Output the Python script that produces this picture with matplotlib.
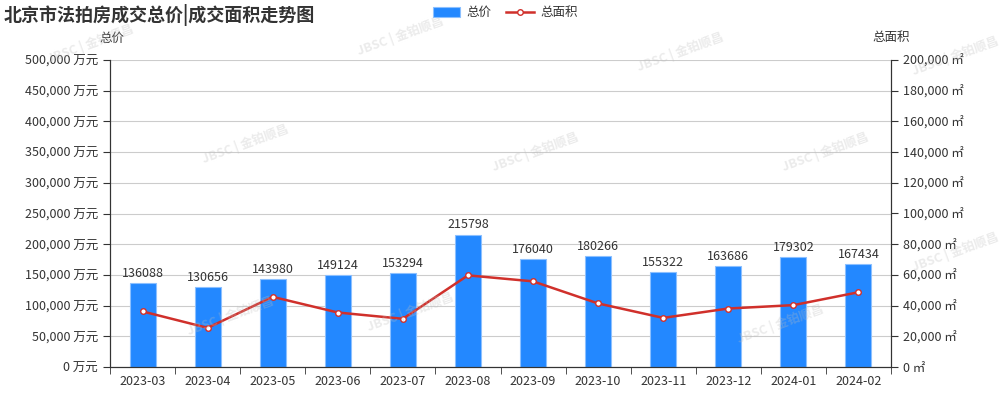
import matplotlib
matplotlib.use("Agg")
import matplotlib.pyplot as plt
import numpy as np
from matplotlib.ticker import FuncFormatter

plt.rcParams['font.family'] = ['Noto Sans CJK SC', 'DejaVu Sans']

# Daten
months = ["2023-03", "2023-04", "2023-05", "2023-06", "2023-07", "2023-08",
          "2023-09", "2023-10", "2023-11", "2023-12", "2024-01", "2024-02"]
total_price = [136088, 130656, 143980, 149124, 153294, 215798,
               176040, 180266, 155322, 163686, 179302, 167434]
total_area = [36200, 25500, 45700, 35500, 31400, 59700,
              55800, 41400, 32000, 38100, 40300, 48700]

bar_color = "#2388ff"
line_color = "#d0302b"
text_color = "#333333"

fig = plt.figure(figsize=(10, 4), dpi=100)
ax = fig.add_axes([0.11, 0.0825, 0.781, 0.7675])
ax2 = ax.twinx()

x = np.arange(len(months))
ax.bar(x, total_price, width=0.4, color=bar_color, edgecolor="#8cc0ff",
       linewidth=0.8, zorder=2, label="总价")
for xi, v in zip(x, total_price):
    ax.text(xi, v + 5000, str(v), ha="center", va="bottom", fontsize=9, color=text_color)

ax2.plot(x, total_area, color=line_color, linewidth=1.8, marker="o", markersize=4,
         markerfacecolor="white", markeredgecolor=line_color, markeredgewidth=1,
         zorder=3, label="总面积")

ax.set_xlim(-0.5, len(months) - 0.5)
ax.set_ylim(0, 500000)
ax2.set_ylim(0, 200000)
ax.set_yticks(np.arange(0, 500001, 50000))
ax2.set_yticks(np.arange(0, 200001, 20000))
ax.yaxis.set_major_formatter(FuncFormatter(lambda v, p: f"{int(v):,} 万元"))
ax2.yaxis.set_major_formatter(FuncFormatter(lambda v, p: f"{int(v):,} ㎡"))

ax.set_xticks(x)
ax.set_xticklabels(months)
ax.set_xticks(np.arange(-0.5, len(months), 1), minor=True)
ax.tick_params(axis="x", which="major", length=0, labelsize=9, labelcolor=text_color, pad=6)
ax.tick_params(axis="x", which="minor", length=5, color=text_color, direction="out")
ax.tick_params(axis="y", length=5, labelsize=9, labelcolor=text_color, color=text_color)
ax2.tick_params(axis="y", length=5, labelsize=9, labelcolor=text_color, color=text_color)

ax.grid(axis="y", color="#cccccc", linewidth=0.8, zorder=0)
ax.set_axisbelow(True)
for a in (ax, ax2):
    a.spines["top"].set_visible(False)
    a.spines["left"].set_color(text_color)
    a.spines["right"].set_color(text_color)
    a.spines["bottom"].set_color(text_color)

fig.text(0.112, 0.905, "总价", fontsize=9, color=text_color, ha="center", va="center")
fig.text(0.891, 0.905, "总面积", fontsize=9, color=text_color, ha="center", va="center")

fig.text(0.004, 0.962, "北京市法拍房成交总价|成交面积走势图", fontsize=13,
         fontweight="bold", color=text_color, va="center")

# Legende
h1, l1 = ax.get_legend_handles_labels()
h2, l2 = ax2.get_legend_handles_labels()
fig.legend(h1 + h2, l1 + l2, loc="center", bbox_to_anchor=(0.505, 0.968), ncol=2,
           frameon=False, fontsize=9, handlelength=2.2, handleheight=0.9,
           columnspacing=1.2, handletextpad=0.5, labelcolor=text_color)

# Wasserzeichen (sehr blass)
for wx, wy in [(0.09, 0.89), (0.40, 0.91), (0.68, 0.87), (0.955, 0.86),
               (0.245, 0.64), (0.535, 0.62), (0.825, 0.62),
               (0.23, 0.21), (0.41, 0.22), (0.78, 0.19), (0.955, 0.37)]:
    fig.text(wx, wy, "JBSC | 金铂顺昌", fontsize=9, color="#bdbdbd", alpha=0.3,
             rotation=20, ha="center", va="center", fontweight="bold")

plt.savefig("out.png", dpi=100)
